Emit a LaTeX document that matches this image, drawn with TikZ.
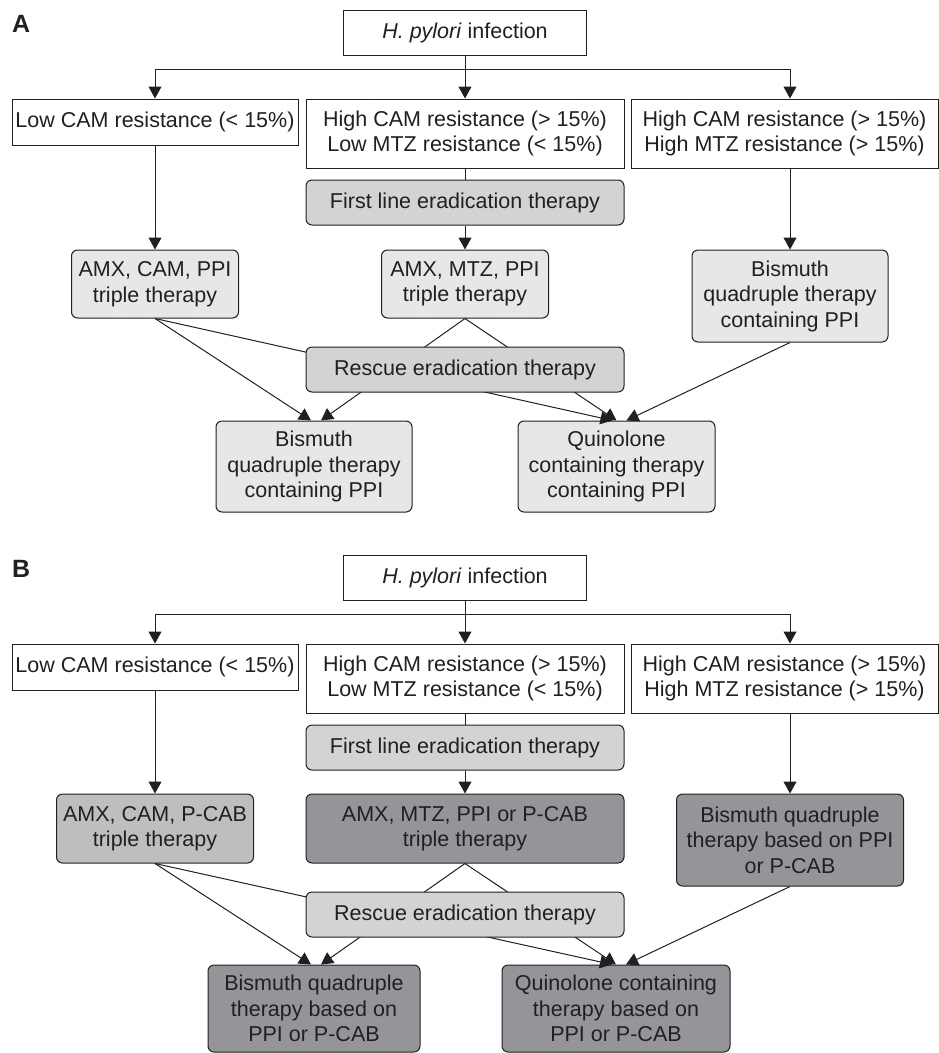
\documentclass[tikz,border=0pt]{standalone}
\usepackage{fontspec}
\setmainfont{Liberation Sans}
\usetikzlibrary{arrows.meta,calc}
\definecolor{ink}{HTML}{231F20}
\definecolor{lightfill}{HTML}{E6E7E8}
\definecolor{midfill}{HTML}{D1D3D4}
\definecolor{greyfill}{HTML}{BCBEC0}
\definecolor{darkfill}{HTML}{939598}
\begin{document}
\begin{tikzpicture}[x=1pt,y=-1pt,
  every node/.style={font=\fontsize{21.5}{25.5}\selectfont, text=ink, align=center, inner sep=3pt},
  plainbox/.style={draw=ink, line width=1pt, fill=white},
  roundbox/.style={draw=ink, line width=1pt, rounded corners=6pt},
  conn/.style={draw=ink, line width=1pt},
  arr/.style={conn, -{Triangle[length=12pt,width=13pt]}},
  panel/.style={font=\fontsize{25}{30}\selectfont\bfseries, inner sep=0pt, anchor=base west}]
\useasboundingbox (0,0) rectangle (939,1053);

% ---------------- Panel A ----------------
\node[panel] (labA) at (12,32) {A};
\node[plainbox, minimum width=243pt, minimum height=45pt] (hpA) at (465,32.5) {\textit{H. pylori} infection};
\coordinate (splitA) at (465,69);
\node[plainbox, minimum width=286pt, minimum height=46pt] (lowA) at (155,122) {Low CAM resistance (< 15\%)};
\node[plainbox, minimum width=318pt, minimum height=69pt] (hlA) at (465,133.5) {High CAM resistance (> 15\%)\\Low MTZ resistance (< 15\%)};
\node[plainbox, minimum width=307pt, minimum height=69pt] (hhA) at (784.5,133.5) {High CAM resistance (> 15\%)\\High MTZ resistance (> 15\%)};
\node[roundbox, fill=midfill, minimum width=318pt, minimum height=45pt] (flA) at (465,202.5) {First line eradication therapy};
\node[roundbox, fill=lightfill, minimum width=167pt, minimum height=68pt] (amxA1) at (155,284) {AMX, CAM, PPI\\triple therapy};
\node[roundbox, fill=lightfill, minimum width=167pt, minimum height=68pt] (amxA2) at (465,284) {AMX, MTZ, PPI\\triple therapy};
\node[roundbox, fill=lightfill, minimum width=196pt, minimum height=92pt] (bisRA) at (790,296) {Bismuth\\quadruple therapy\\containing PPI};
\node[roundbox, fill=lightfill, minimum width=196pt, minimum height=91pt] (bisA) at (314,466.5) {Bismuth\\quadruple therapy\\containing PPI};
\node[roundbox, fill=lightfill, minimum width=197pt, minimum height=91pt] (quiA) at (616.5,466.5) {Quinolone\\containing therapy\\containing PPI};

\draw[conn] (hpA) -- (splitA);
\draw[arr] (splitA) -| (lowA);
\draw[arr] (splitA) -- (hlA);
\draw[arr] (splitA) -| (bisRA.north |- hhA.north);
\draw[arr] (lowA) -- (amxA1);
\draw[conn] (hlA) -- (flA);
\draw[arr] (flA) -- (amxA2);
\draw[arr] (bisRA.north |- hhA.south) -- (bisRA);
\draw[arr] (amxA1.south) -- ($(bisA.north)+(-3,0)$);
\draw[arr] (amxA2.south) -- ($(bisA.north)+(7,0)$);
\draw[arr] (amxA1.south) -- ($(quiA.north)+(-4,0)$);
\draw[arr] (amxA2.south) -- ($(quiA.north)+(0,0)$);
\draw[arr] (bisRA.south) -- ($(quiA.north)+(10,0)$);
\node[roundbox, fill=midfill, minimum width=318pt, minimum height=45pt] (resA) at (465,369.5) {Rescue eradication therapy};

% ---------------- Panel B ----------------
\node[panel] (labB) at (12,577) {B};
\node[plainbox, minimum width=243pt, minimum height=45pt] (hpB) at (465,577.5) {\textit{H. pylori} infection};
\coordinate (splitB) at (465,614);
\node[plainbox, minimum width=286pt, minimum height=46pt] (lowB) at (155,667) {Low CAM resistance (< 15\%)};
\node[plainbox, minimum width=318pt, minimum height=69pt] (hlB) at (465,678.5) {High CAM resistance (> 15\%)\\Low MTZ resistance (< 15\%)};
\node[plainbox, minimum width=307pt, minimum height=69pt] (hhB) at (784.5,678.5) {High CAM resistance (> 15\%)\\High MTZ resistance (> 15\%)};
\node[roundbox, fill=midfill, minimum width=318pt, minimum height=45pt] (flB) at (465,747.5) {First line eradication therapy};
\node[roundbox, fill=greyfill, minimum width=197pt, minimum height=69pt] (amxB1) at (155,828.5) {AMX, CAM, P-CAB\\triple therapy};
\node[roundbox, fill=darkfill, minimum width=318pt, minimum height=69pt] (amxB2) at (465,828.5) {AMX, MTZ, PPI or P-CAB\\triple therapy};
\node[roundbox, fill=darkfill, minimum width=227pt, minimum height=92pt] (bisRB) at (790,840) {Bismuth quadruple\\therapy based on PPI\\or P-CAB};
\node[roundbox, fill=darkfill, minimum width=212pt, minimum height=87pt] (bisB) at (314,1008.5) {Bismuth quadruple\\therapy based on\\PPI or P-CAB};
\node[roundbox, fill=darkfill, minimum width=228pt, minimum height=87pt] (quiB) at (616,1008.5) {Quinolone containing\\therapy based on\\PPI or P-CAB};

\draw[conn] (hpB) -- (splitB);
\draw[arr] (splitB) -| (lowB);
\draw[arr] (splitB) -- (hlB);
\draw[arr] (splitB) -| (bisRB.north |- hhB.north);
\draw[arr] (lowB) -- (amxB1);
\draw[conn] (hlB) -- (flB);
\draw[arr] (flB) -- (amxB2);
\draw[arr] (bisRB.north |- hhB.south) -- (bisRB);
\draw[arr] (amxB1.south) -- ($(bisB.north)+(-3,0)$);
\draw[arr] (amxB2.south) -- ($(bisB.north)+(7,0)$);
\draw[arr] (amxB1.south) -- ($(quiB.north)+(-4,0)$);
\draw[arr] (amxB2.south) -- ($(quiB.north)+(0,0)$);
\draw[arr] (bisRB.south) -- ($(quiB.north)+(10,0)$);
\node[roundbox, fill=midfill, minimum width=318pt, minimum height=45pt] (resB) at (465,914.5) {Rescue eradication therapy};
\end{tikzpicture}
\end{document}
